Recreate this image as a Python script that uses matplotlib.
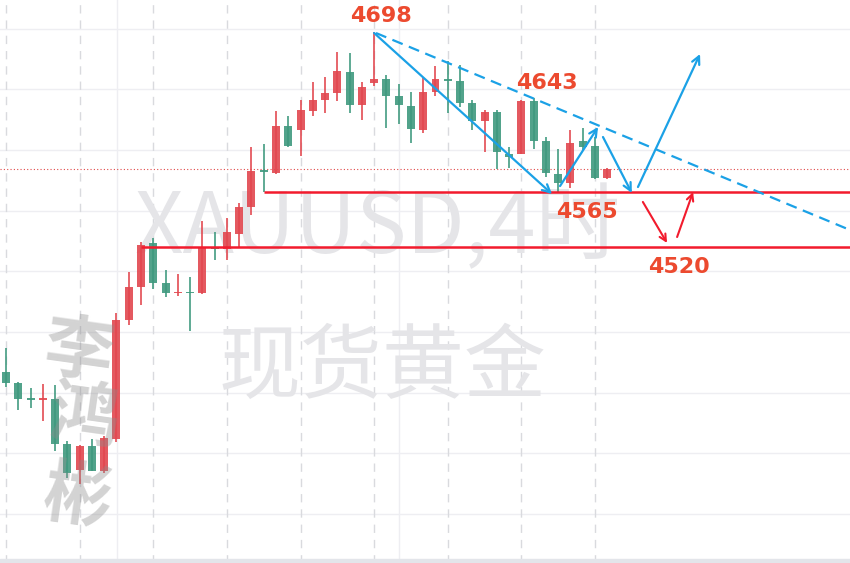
import matplotlib.pyplot as plt
import numpy as np

# XAUUSD 4h candles
opens = [4417, 4408, 4395, 4394, 4395, 4358, 4336, 4356, 4335, 4362,
         4460, 4487, 4523, 4490, 4482, 4483, 4482, 4520, 4518, 4531,
         4553, 4583, 4581, 4620, 4616, 4632, 4641, 4647, 4664, 4637,
         4655, 4658, 4644, 4636, 4616, 4648, 4658, 4657, 4639, 4624,
         4631, 4597, 4597, 4640, 4607, 4580, 4573, 4607, 4603, 4577]
highs = [4437, 4409, 4404, 4407, 4406, 4360, 4357, 4362, 4364, 4466,
         4499, 4524, 4527, 4501, 4498, 4495, 4541, 4532, 4544, 4556,
         4602, 4605, 4632, 4628, 4641, 4656, 4660, 4681, 4680, 4656,
         4697, 4662, 4654, 4648, 4659, 4669, 4673, 4670, 4641, 4633,
         4633, 4602, 4641, 4643, 4611, 4601, 4616, 4618, 4611, 4585]
lows = [4405, 4386, 4387, 4377, 4352, 4330, 4325, 4335, 4334, 4359,
        4456, 4472, 4485, 4479, 4480, 4451, 4481, 4509, 4509, 4519,
        4546, 4565, 4580, 4602, 4595, 4628, 4630, 4640, 4630, 4625,
        4653, 4618, 4621, 4606, 4614, 4644, 4630, 4635, 4616, 4598,
        4584, 4585, 4597, 4601, 4578, 4565, 4569, 4600, 4576, 4576]
closes = [4408, 4395, 4394, 4395, 4358, 4334, 4356, 4335, 4363, 4460,
          4487, 4522, 4490, 4482, 4483, 4482, 4520, 4519, 4532, 4553,
          4583, 4582, 4620, 4603, 4633, 4641, 4647, 4665, 4637, 4652,
          4658, 4644, 4637, 4617, 4648, 4658, 4657, 4639, 4624, 4631,
          4598, 4594, 4640, 4607, 4581, 4573, 4606, 4602, 4577, 4584]

support_levels = [4565, 4520]
last_price = 4584
grid_prices = np.arange(4300, 4701, 50)

up_col = '#e2474f'
down_col = '#3f997e'
blue = '#1ba1e6'
red_line = '#f21b2d'
label_col = '#ec4a2f'

fig = plt.figure(figsize=(8.5, 5.63), dpi=100)
ax = fig.add_axes([0, 0, 1, 1])
ax.set_xlim(-0.49, 68.78)
ax.set_ylim(4259.6, 4723.5)
ax.axis('off')

# grid
for p in grid_prices:
    ax.axhline(p, color='#eeeef2', lw=1, zorder=0)
for i in range(0, 50, 6):
    ax.axvline(i, color='#d9dade', lw=1, ls=(0, (6, 5)), zorder=0)
for i in [9.05, 32.03]:
    ax.axvline(i, color='#eeeef2', lw=1, zorder=0)
ax.axhspan(4259.6, 4262.8, color='#e3e5ea', zorder=0)

# watermarks
ax.text(30.3, 4535, 'XAUUSD,4时', fontsize=61, color='#e5e5e8',
        family=['Noto Sans CJK SC', 'DejaVu Sans'], ha='center', va='center', zorder=1)
ax.text(30.7, 4420, '现货黄金', fontsize=59, color='#e5e5e8',
        family=['Noto Sans CJK SC'], ha='center', va='center', zorder=1)

# candles
n = len(opens)
x = np.arange(n)
for i in range(n):
    o, h, l, c = opens[i], highs[i], lows[i], closes[i]
    col = up_col if c >= o else down_col
    ax.vlines(x[i], l, h, color=col, lw=1.3, alpha=0.9, zorder=2)
    bottom = min(o, c)
    height = max(abs(c - o), 1.6)
    ax.bar(x[i], height, bottom=bottom - (height - abs(c - o)) / 2, width=0.65,
           color=col, alpha=0.9, zorder=3)

# current price
ax.axhline(last_price, color='#e04848', lw=0.8, ls=(0, (1, 2)), zorder=1)

# support lines
ax.hlines(support_levels[0], 21, 68.78, color=red_line, lw=1.8, zorder=4)
ax.hlines(support_levels[1], 11, 68.78, color=red_line, lw=1.8, zorder=4)

# trend lines / arrows
ax.plot([30.15, 68.78], [4696.3, 4534.0], color=blue, lw=1.6, ls=(0, (5, 3)), zorder=4)
blue_arrows = [((30.0, 4696.3), (44.5, 4563.6)),
               ((45.15, 4570.2), (48.25, 4618.9)),
               ((48.65, 4610.6), (51.0, 4564.5)),
               ((51.5, 4569.4), (56.56, 4679.0))]
for start, end in blue_arrows:
    ax.annotate('', xy=end, xytext=start, zorder=5,
                arrowprops=dict(arrowstyle='->', color=blue, lw=1.6,
                                mutation_scale=14, shrinkA=0, shrinkB=0))
red_arrows = [((51.9, 4557.1), (53.87, 4523.3)),
              ((54.69, 4528.2), (55.99, 4565.3))]
for start, end in red_arrows:
    ax.annotate('', xy=end, xytext=start, zorder=5,
                arrowprops=dict(arrowstyle='->', color=red_line, lw=1.5,
                                mutation_scale=12, shrinkA=0, shrinkB=0))

# price labels
labels = ['4698', '4643', '4565', '4520']
label_pos = [(30.56, 4710.3), (44.09, 4654.7), (47.35, 4549.2), (54.85, 4503.9)]
for t, (lx, ly) in zip(labels, label_pos):
    ax.text(lx, ly, t, color=label_col, fontsize=16, fontweight='bold',
            ha='center', va='center', zorder=6)

# signature watermark
for ch, (cx, cy) in zip('李鸿彬', [(5.9, 4433), (6.4, 4379), (5.8, 4313)]):
    ax.text(cx, cy, ch, fontsize=50, color='#8c8c8c', alpha=0.38, fontweight='bold',
            family=['Noto Sans CJK SC'], ha='center', va='center', rotation=-8, zorder=7)

fig.savefig('out.png', dpi=100)
